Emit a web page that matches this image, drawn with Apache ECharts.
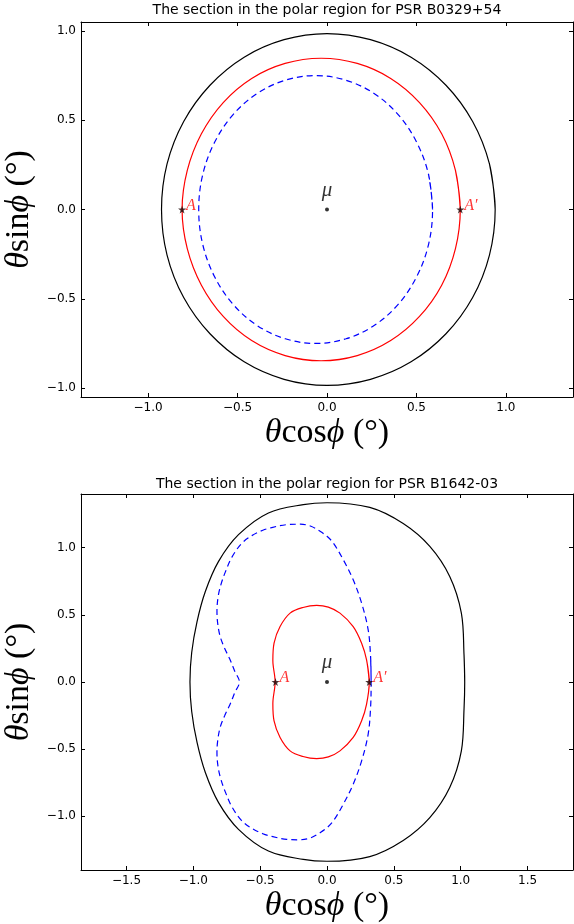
<!DOCTYPE html>
<html>
<head>
<meta charset="utf-8">
<script src="https://cdn.jsdelivr.net/npm/echarts@6/dist/echarts.min.js"></script>
<style>
  html, body { margin: 0; padding: 0; background: #fff; }
  #chart { width: 574px; height: 924px; }
</style>
</head>
<body>
<div id="chart"></div>
<script>
// panel titles
const titles = [
  'The section in the polar region for PSR B0329+54',
  'The section in the polar region for PSR B1642-03',
]

// tick values
const topTicks = [-1, -0.5, 0, 0.5, 1]
const bottomXTicks = [-1.5, -1, -0.5, 0, 0.5, 1, 1.5]
const bottomYTicks = [-1, -0.5, 0, 0.5, 1]

// PSR B0329+54 curves, [x, y] in degrees
const topBlack = [
  [0.94, 0], [0.908, 0.255], [0.814, 0.493], [0.665, 0.696], [0.47, 0.853], [0.243, 0.951],
  [0, 0.985], [-0.24, 0.951], [-0.463, 0.853], [-0.654, 0.696], [-0.801, 0.493], [-0.894, 0.255],
  [-0.925, 0], [-0.894, -0.255], [-0.801, -0.493], [-0.654, -0.696], [-0.463, -0.853], [-0.24, -0.951],
  [0, -0.985], [0.243, -0.951], [0.47, -0.853], [0.665, -0.696], [0.814, -0.493], [0.908, -0.255],
  [0.94, 0],
]
const topRed = [
  [0.745, 0], [0.718, 0.219], [0.641, 0.424], [0.517, 0.599], [0.356, 0.734], [0.169, 0.818],
  [-0.033, 0.847], [-0.234, 0.818], [-0.421, 0.734], [-0.58, 0.599], [-0.702, 0.424], [-0.781, 0.219],
  [-0.81, 0], [-0.781, -0.219], [-0.702, -0.424], [-0.58, -0.599], [-0.421, -0.734], [-0.234, -0.818],
  [-0.033, -0.847], [0.169, -0.818], [0.356, -0.734], [0.517, -0.599], [0.641, -0.424], [0.718, -0.219],
  [0.745, 0],
]
const topBlue = [
  [0.59, 0], [0.568, 0.194], [0.502, 0.375], [0.399, 0.53], [0.263, 0.65], [0.106, 0.724],
  [-0.064, 0.75], [-0.233, 0.724], [-0.39, 0.65], [-0.526, 0.53], [-0.629, 0.375], [-0.695, 0.194],
  [-0.717, 0], [-0.695, -0.194], [-0.629, -0.375], [-0.526, -0.53], [-0.39, -0.65], [-0.233, -0.724],
  [-0.064, -0.75], [0.106, -0.724], [0.263, -0.65], [0.399, -0.53], [0.502, -0.375], [0.568, -0.194],
  [0.59, 0],
]
const topMarks = [['A', -0.81, 0], ['A\u2032', 0.745, 0]]

// PSR B1642-03 curves
const bottomBlack = [
  [1.03, 0], [1.025, 0.2], [1.005, 0.513], [0.918, 0.786], [0.769, 1.01], [0.57, 1.18], [0.32, 1.3],
  [0, 1.335], [-0.177, 1.321], [-0.438, 1.259], [-0.662, 1.097], [-0.811, 0.898], [-0.91, 0.674],
  [-0.972, 0.45], [-1.012, 0.22], [-1.025, 0], [-1.012, -0.22], [-0.972, -0.45], [-0.91, -0.674],
  [-0.811, -0.898], [-0.662, -1.097], [-0.438, -1.259], [-0.177, -1.321], [0, -1.335], [0.32, -1.3],
  [0.57, -1.18], [0.769, -1.01], [0.918, -0.786], [1.005, -0.513], [1.025, -0.2], [1.03, 0],
]
const bottomRed = [
  [0.316, 0], [0.296, 0.164], [0.259, 0.289], [0.196, 0.413], [0.097, 0.513], [0.01, 0.558],
  [-0.077, 0.571], [-0.18, 0.555], [-0.276, 0.513], [-0.351, 0.413], [-0.396, 0.29], [-0.405, 0.16],
  [-0.388, 0], [-0.405, -0.16], [-0.396, -0.29], [-0.351, -0.413], [-0.276, -0.513], [-0.18, -0.555],
  [-0.077, -0.571], [0.01, -0.558], [0.097, -0.513], [0.196, -0.413], [0.259, -0.289], [0.296, -0.164],
  [0.316, 0],
]
const bottomBlue = [
  [0.33, 0], [0.326, 0.189], [0.308, 0.388], [0.259, 0.587], [0.196, 0.761], [0.122, 0.91],
  [0.047, 1.035], [0, 1.085], [-0.052, 1.122], [-0.12, 1.16], [-0.2, 1.175], [-0.3, 1.172],
  [-0.413, 1.15], [-0.48, 1.13], [-0.562, 1.09], [-0.64, 1.03], [-0.711, 0.93], [-0.76, 0.82],
  [-0.795, 0.72], [-0.815, 0.63], [-0.823, 0.53], [-0.818, 0.44], [-0.799, 0.338], [-0.765, 0.25],
  [-0.724, 0.164], [-0.69, 0.08], [-0.655, 0], [-0.69, -0.08], [-0.724, -0.164], [-0.765, -0.25],
  [-0.799, -0.338], [-0.818, -0.44], [-0.823, -0.53], [-0.815, -0.63], [-0.795, -0.72], [-0.76, -0.82],
  [-0.711, -0.93], [-0.64, -1.03], [-0.562, -1.09], [-0.48, -1.13], [-0.413, -1.15], [-0.3, -1.172],
  [-0.2, -1.175], [-0.12, -1.16], [-0.052, -1.122], [0, -1.085], [0.047, -1.035], [0.122, -0.91],
  [0.196, -0.761], [0.259, -0.587], [0.308, -0.388], [0.326, -0.189], [0.33, 0],
]
const bottomMarks = [['A', -0.385, 0], ['A\u2032', 0.316, 0]]

const chart = echarts.init(document.getElementById('chart'))

const fmt = (v) => v.toFixed(1).replace('-', '\u2212')
const star = 'path://M50,0 L61,35 L98,35 L68,57 L79,91 L50,70 L21,91 L32,57 L2,35 L39,35 Z'
const mathName = (a, b) => '{i|' + a + '}' + b + '{i|\u03d5} (\u00b0)'
const nameStyle = {
  fontFamily: 'Liberation Serif',
  fontSize: 34,
  color: '#000',
  rich: { i: { fontFamily: 'Liberation Serif', fontStyle: 'italic', fontSize: 34, color: '#000' } },
}

// main axis (with labels) + mirror axis (ticks only) for a box like matplotlib
function axes(grid, pos, mirror, min, max, ticks, name, gap) {
  const line = { show: true, onZero: false, lineStyle: { color: '#000', width: 1 } }
  const tickStyle = { color: '#000', width: 1 }
  return [
    {
      type: 'value', gridIndex: grid, position: pos, min: min, max: max,
      name: name, nameLocation: 'middle', nameGap: gap, nameTextStyle: nameStyle,
      axisLine: line,
      axisTick: { show: true, inside: true, length: 4, customValues: ticks, lineStyle: tickStyle },
      axisLabel: { margin: 5, customValues: ticks, formatter: fmt, fontSize: 12, color: '#000', fontFamily: 'DejaVu Sans' },
      splitLine: { show: false },
    },
    {
      type: 'value', gridIndex: grid, position: mirror, min: min, max: max,
      axisLine: line,
      axisTick: { show: true, inside: true, length: 4, customValues: ticks, lineStyle: tickStyle },
      axisLabel: { show: false },
      splitLine: { show: false },
    },
  ]
}

// closed loop: repeat the second point so the join is smoothed too
function curve(data, xi, color, dashed) {
  return {
    type: 'line', xAxisIndex: xi, yAxisIndex: xi, data: data.concat([data[1]]),
    showSymbol: false, smooth: 0.35, silent: true,
    lineStyle: { color: color, width: 1.2, type: dashed ? [6, 4] : 'solid' },
  }
}

function marks(list, xi) {
  return [
    {
      type: 'scatter', xAxisIndex: xi, yAxisIndex: xi, symbol: star, symbolSize: 8, z: 5,
      itemStyle: { color: '#1a0000' },
      data: list.map((m) => ({ name: m[0], value: [m[1], m[2]] })),
      label: {
        show: true, position: 'right', distance: 0, offset: [0, -4], formatter: '{b}',
        color: '#ff0000', fontFamily: 'Liberation Serif', fontStyle: 'italic', fontSize: 16,
      },
    },
    {
      type: 'scatter', xAxisIndex: xi, yAxisIndex: xi, symbol: 'circle', symbolSize: 4, z: 5,
      itemStyle: { color: '#000' },
      data: [{ name: '\u03bc', value: [0, 0] }],
      label: {
        show: true, position: 'top', distance: 7, formatter: '{b}',
        color: '#000', fontFamily: 'Liberation Serif', fontStyle: 'italic', fontSize: 21,
      },
    },
  ]
}

const option = {
  animation: false,
  backgroundColor: '#fff',
  title: [
    { text: titles[0], left: 327, top: 3, padding: 0, textAlign: 'center',
      textStyle: { fontFamily: 'DejaVu Sans', fontWeight: 'normal', fontSize: 14, color: '#000' } },
    { text: titles[1], left: 327, top: 477, padding: 0, textAlign: 'center',
      textStyle: { fontFamily: 'DejaVu Sans', fontWeight: 'normal', fontSize: 14, color: '#000' } },
  ],
  grid: [
    { left: 81, top: 22, right: 1, height: 375, outerBoundsMode: 'none' },
    { left: 81, top: 494, right: 1, height: 376, outerBoundsMode: 'none' },
  ],
  xAxis: [
    ...axes(0, 'bottom', 'top', -1.375, 1.375, topTicks, mathName('\u03b8', 'cos'), 19),
    ...axes(1, 'bottom', 'top', -1.84, 1.84, bottomXTicks, mathName('\u03b8', 'cos'), 19),
  ],
  yAxis: [
    ...axes(0, 'left', 'right', -1.05, 1.05, topTicks, mathName('\u03b8', 'sin'), 39),
    ...axes(1, 'left', 'right', -1.4, 1.4, bottomYTicks, mathName('\u03b8', 'sin'), 39),
  ],
  series: [
    curve(topBlack, 0, '#000000', false),
    curve(topRed, 0, '#ff0000', false),
    curve(topBlue, 0, '#0000ff', true),
    ...marks(topMarks, 0),
    curve(bottomBlack, 2, '#000000', false),
    curve(bottomRed, 2, '#ff0000', false),
    curve(bottomBlue, 2, '#0000ff', true),
    ...marks(bottomMarks, 2),
  ],
}

chart.setOption(option)
</script>
</body>
</html>
